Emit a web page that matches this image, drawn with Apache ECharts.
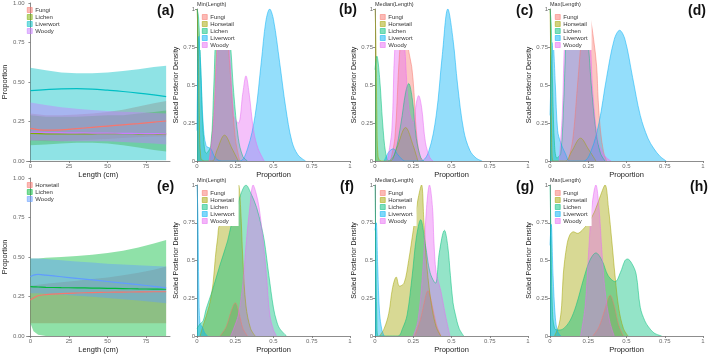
<!DOCTYPE html>
<html><head><meta charset="utf-8">
<script src="https://cdn.jsdelivr.net/npm/echarts@6/dist/echarts.min.js"></script>
<style>html,body{margin:0;padding:0;background:#fff}#c{width:709px;height:355px}</style>
</head><body><div id="c"></div>
<script>
// ---------- Panel (a): proportion vs length ----------
const lengthA = [0,10,20,30,40,50,60,70,80,88];
const aFungiMean = [0.207,0.195,0.197,0.205,0.213,0.221,0.229,0.237,0.246,0.253];
const aFungiLow  = [0.13,0.125,0.125,0.13,0.135,0.14,0.145,0.15,0.155,0.155];
const aFungiHigh = [0.30,0.29,0.29,0.295,0.30,0.31,0.325,0.345,0.365,0.38];
const aLichenMean = [0.175,0.172,0.171,0.171,0.172,0.173,0.173,0.172,0.171,0.17];
const aLichenLow  = [0.10,0.105,0.11,0.115,0.115,0.11,0.10,0.085,0.07,0.06];
const aLichenHigh = [0.29,0.28,0.28,0.28,0.285,0.29,0.29,0.30,0.31,0.32];
const aLiverwortMean = [0.445,0.452,0.457,0.458,0.455,0.448,0.44,0.43,0.418,0.407];
const aLiverwortLow  = [0.005,0.005,0.005,0.005,0.005,0.005,0.005,0.005,0.005,0.005];
const aLiverwortHigh = [0.59,0.575,0.56,0.555,0.555,0.56,0.57,0.58,0.595,0.603];
const aWoodyMean = [0.182,0.18,0.179,0.178,0.177,0.176,0.175,0.174,0.173,0.172];
const aWoodyLow  = [0.13,0.13,0.125,0.125,0.125,0.125,0.12,0.115,0.11,0.105];
const aWoodyHigh = [0.37,0.355,0.34,0.33,0.322,0.316,0.312,0.308,0.304,0.30];

// ---------- Panel (e) ----------
const lengthE = [0,2,5,10,20,30,40,50,60,70,80,88];
const eHorsetailMean = [0.228,0.24,0.255,0.262,0.268,0.272,0.275,0.277,0.278,0.279,0.28,0.28];
const eHorsetailLow  = [0.08,0.08,0.08,0.08,0.08,0.08,0.08,0.08,0.08,0.08,0.08,0.08];
const eHorsetailHigh = [0.32,0.32,0.325,0.33,0.34,0.35,0.36,0.37,0.385,0.40,0.42,0.44];
const eLichenMean = [0.312,0.311,0.31,0.308,0.306,0.305,0.303,0.302,0.30,0.298,0.297,0.296];
const eLichenLow  = [0.08,0.03,0.008,0,0,0,0,0,0,0,0,0];
const eLichenHigh = [0.49,0.49,0.49,0.495,0.50,0.507,0.515,0.525,0.54,0.56,0.585,0.608];
const eWoodyMean = [0.375,0.385,0.39,0.385,0.375,0.365,0.355,0.345,0.335,0.325,0.314,0.305];
const eWoodyLow  = [0.27,0.27,0.27,0.268,0.262,0.255,0.248,0.24,0.232,0.224,0.215,0.207];
const eWoodyHigh = [0.49,0.49,0.49,0.488,0.48,0.472,0.465,0.458,0.452,0.447,0.443,0.44];

// ---------- Density panels: [proportion, scaled density] ----------
const bFungi = [[0.08,0],[0.11,0.3],[0.13,0.75],[0.16,1],[0.19,0.9],[0.22,0.55],[0.25,0.15],[0.28,0]];
const bHorsetail = [[0,1],[0.008,0.8],[0.015,0.3],[0.025,0.02],[0.05,0],[0.1,0],[0.13,0.07],[0.18,0.17],[0.23,0.08],[0.27,0]];
const bLichen = [[0,1],[0.01,0.95],[0.025,0.6],[0.04,0.2],[0.06,0.05],[0.09,0.1],[0.11,0.5],[0.13,0.9],[0.17,1],[0.21,0.85],[0.24,0.45],[0.27,0.15],[0.3,0.03],[0.33,0]];
const bLiverwort = [[0,0.2],[0.012,0.82],[0.025,0.6],[0.04,0.25],[0.06,0.1],[0.09,0.08],[0.12,0.02],[0.16,0],[0.28,0],[0.33,0.08],[0.38,0.3],[0.42,0.65],[0.45,0.92],[0.475,1],[0.5,0.93],[0.54,0.65],[0.58,0.35],[0.62,0.13],[0.66,0.04],[0.71,0]];
const bWoody = [[0.08,0],[0.11,0.25],[0.14,0.8],[0.18,1],[0.21,0.75],[0.24,0.3],[0.27,0.25],[0.3,0.45],[0.32,0.56],[0.34,0.45],[0.37,0.2],[0.4,0.08],[0.44,0]];

const cFungi = [[0.1,0],[0.13,0.15],[0.16,0.7],[0.19,0.97],[0.215,0.75],[0.24,0.62],[0.255,0.45],[0.27,0.2],[0.29,0.04],[0.31,0]];
const cHorsetail = [[0,1],[0.006,0.8],[0.012,0.3],[0.02,0.03],[0.04,0],[0.1,0],[0.14,0.08],[0.2,0.22],[0.25,0.1],[0.28,0]];
const cLichen = [[0,0.6],[0.012,0.69],[0.03,0.55],[0.05,0.25],[0.07,0.05],[0.09,0],[0.13,0.05],[0.17,0.25],[0.2,0.45],[0.22,0.51],[0.245,0.4],[0.27,0.15],[0.3,0.02],[0.32,0]];
const cLiverwort = [[0.06,0],[0.09,0.06],[0.12,0.08],[0.15,0.04],[0.2,0],[0.3,0],[0.35,0.06],[0.4,0.3],[0.44,0.7],[0.476,1],[0.51,0.8],[0.54,0.5],[0.58,0.2],[0.62,0.07],[0.66,0.02],[0.7,0]];
const cWoody = [[0.08,0],[0.11,0.2],[0.13,0.75],[0.16,0.97],[0.19,0.8],[0.22,0.35],[0.25,0.25],[0.27,0.38],[0.285,0.43],[0.305,0.35],[0.33,0.12],[0.36,0.02],[0.38,0]];

const dFungi = [[0.12,0],[0.15,0.15],[0.18,0.5],[0.21,0.85],[0.235,1],[0.26,0.95],[0.285,0.8],[0.305,0.62],[0.315,0.4],[0.33,0.2],[0.35,0.06],[0.37,0]];
const dHorsetail = [[0,1],[0.005,0.7],[0.01,0.2],[0.02,0],[0.1,0],[0.14,0.06],[0.2,0.15],[0.25,0.08],[0.3,0]];
const dLichen = [[0,1],[0.008,0.9],[0.018,0.45],[0.03,0.1],[0.045,0.02],[0.07,0.05],[0.09,0.4],[0.11,0.85],[0.14,0.95],[0.2,0.95],[0.24,0.85],[0.27,0.5],[0.3,0.2],[0.33,0.05],[0.36,0]];
const dLiverwort = [[0,0.3],[0.02,0.78],[0.035,0.5],[0.05,0.2],[0.07,0.12],[0.1,0.05],[0.13,0],[0.22,0],[0.27,0.07],[0.32,0.25],[0.37,0.55],[0.42,0.8],[0.455,0.86],[0.49,0.8],[0.54,0.55],[0.59,0.3],[0.64,0.15],[0.68,0.08],[0.72,0.03],[0.76,0]];
const dWoody = [[0.06,0],[0.08,0.3],[0.1,0.85],[0.13,0.97],[0.2,0.97],[0.25,0.9],[0.28,0.45],[0.31,0.15],[0.34,0.06],[0.37,0.02],[0.4,0]];

const fFungi = [[0.15,0],[0.19,0.06],[0.225,0.17],[0.25,0.22],[0.275,0.15],[0.3,0.05],[0.33,0]];
const fHorsetail = [[0.02,0],[0.04,0.07],[0.08,0.2],[0.105,0.35],[0.12,0.52],[0.135,0.65],[0.15,0.74],[0.2,0.76],[0.235,0.8],[0.255,0.92],[0.272,1],[0.285,0.85],[0.3,0.5],[0.32,0.2],[0.35,0.05],[0.38,0]];
const fLichen = [[0,0.05],[0.02,0.08],[0.04,0.1],[0.06,0.18],[0.1,0.3],[0.15,0.47],[0.2,0.63],[0.225,0.74],[0.26,0.85],[0.29,0.95],[0.32,1],[0.35,0.95],[0.39,0.85],[0.42,0.73],[0.44,0.63],[0.47,0.4],[0.5,0.185],[0.52,0.1],[0.54,0.05],[0.585,0]];
const fLiverwort = [[0,1],[0.006,0.8],[0.012,0.3],[0.02,0.08],[0.035,0.06],[0.05,0.02],[0.07,0]];
const fWoody = [[0.22,0],[0.24,0.05],[0.27,0.14],[0.3,0.35],[0.32,0.6],[0.345,0.85],[0.367,1],[0.385,0.95],[0.406,0.85],[0.43,0.65],[0.454,0.4],[0.476,0.14],[0.5,0.04],[0.52,0]];

const gFungi = [[0.26,0],[0.3,0.12],[0.33,0.26],[0.346,0.3],[0.37,0.22],[0.4,0.08],[0.43,0]];
const gHorsetail = [[0.03,0],[0.06,0.05],[0.09,0.15],[0.115,0.32],[0.139,0.39],[0.16,0.33],[0.19,0.35],[0.22,0.5],[0.25,0.7],[0.28,0.9],[0.304,1],[0.32,0.75],[0.34,0.45],[0.37,0.2],[0.4,0.06],[0.43,0]];
const gLichen = [[0,1],[0.005,0.6],[0.012,0.1],[0.02,0],[0.15,0],[0.18,0.05],[0.21,0.14],[0.243,0.4],[0.27,0.65],[0.298,0.77],[0.33,0.6],[0.36,0.42],[0.395,0.35],[0.42,0.55],[0.454,0.7],[0.475,0.6],[0.493,0.4],[0.51,0.22],[0.526,0.14],[0.55,0.05],[0.58,0]];
const gLiverwort = [[0,0.7],[0.008,0.75],[0.018,0.45],[0.03,0.15],[0.045,0.04],[0.06,0]];
const gWoody = [[0.25,0],[0.28,0.1],[0.31,0.4],[0.337,0.85],[0.356,1],[0.376,0.85],[0.385,0.63],[0.4,0.42],[0.43,0.3],[0.46,0.14],[0.49,0]];

const hFungi = [[0.28,0],[0.32,0.06],[0.36,0.18],[0.393,0.27],[0.42,0.2],[0.45,0.07],[0.48,0]];
const hHorsetail = [[0.03,0],[0.06,0.08],[0.076,0.2],[0.087,0.41],[0.11,0.6],[0.13,0.67],[0.153,0.69],[0.18,0.68],[0.21,0.7],[0.25,0.75],[0.29,0.82],[0.33,0.93],[0.36,1],[0.382,0.85],[0.404,0.63],[0.426,0.39],[0.45,0.18],[0.48,0.05],[0.51,0]];
const hLichen = [[0,1],[0.006,0.7],[0.015,0.2],[0.03,0.05],[0.06,0.04],[0.09,0.05],[0.13,0.1],[0.17,0.2],[0.22,0.38],[0.26,0.5],[0.3,0.55],[0.34,0.5],[0.38,0.4],[0.426,0.36],[0.46,0.42],[0.49,0.5],[0.507,0.51],[0.535,0.48],[0.563,0.41],[0.59,0.19],[0.62,0.1],[0.644,0.06],[0.68,0.02],[0.73,0]];
const hLiverwort = [[0,0.6],[0.008,0.74],[0.02,0.4],[0.035,0.12],[0.05,0.03],[0.07,0]];
const hWoody = [[0.2,0],[0.23,0.2],[0.255,0.6],[0.273,0.85],[0.3,1],[0.32,0.85],[0.34,0.55],[0.36,0.3],[0.39,0.1],[0.42,0]];

const groups5 = ['Fungi','Horsetail','Lichen','Liverwort','Woody'];
const lengthTicks = [0,25,50,75];
const panelLabels = ['(a)','(b)','(c)','(d)','(e)','(f)','(g)','(h)'];
const densityTitles = ['Min(Length)','Median(Length)','Max(Length)'];

// ---------- styling ----------
const FONT = 'Liberation Sans, Arial, sans-serif';
const col5 = {Fungi:'#F8766D', Horsetail:'#A3A500', Lichen:'#00BF7D', Liverwort:'#00B0F6', Woody:'#E76BF3'};
const colA = {Fungi:'#F8766D', Lichen:'#7CAE00', Liverwort:'#00BFC4', Woody:'#C77CFF'};
const colE = {Horsetail:'#F8766D', Lichen:'#00BA38', Woody:'#619CFF'};
function rgba(hex,a){const n=parseInt(hex.slice(1),16);return `rgba(${n>>16},${(n>>8)&255},${n&255},${a})`;}

const grids = [
  {left:25, top:3, width:145, height:158},
  {left:197, top:9, width:153, height:152},
  {left:375, top:9, width:153, height:152},
  {left:550, top:9, width:153, height:152},
  {left:25, top:178, width:145, height:158},
  {left:197, top:185, width:153, height:151},
  {left:375, top:185, width:153, height:151},
  {left:550, top:185, width:153, height:151}
];

const axLine = {show:true, lineStyle:{color:'#707070', width:0.8}};
const axTick = {show:true, length:2, lineStyle:{color:'#707070', width:0.8}};
const labStyle = {fontSize:6, color:'#6a6a6a', margin:2, fontFamily:FONT};
const nameStyle = {fontSize:7.5, color:'#222', fontFamily:FONT};

const xAxes = [], yAxes = [];
grids.forEach((g,i)=>{
  const isLen = (i===0||i===4);
  if (isLen) {
    xAxes.push({gridIndex:i, type:'value', min:-2.5, max:90.5, name:'Length (cm)', nameLocation:'middle', nameGap:10, nameTextStyle:nameStyle,
      axisLine:axLine, axisTick:Object.assign({customValues:lengthTicks},axTick), axisLabel:Object.assign({customValues:lengthTicks},labStyle), splitLine:{show:false}});
    yAxes.push({gridIndex:i, type:'value', min:0, max:1, interval:0.25, name:'Proportion', nameLocation:'middle', nameGap:17, nameTextStyle:nameStyle,
      axisLine:axLine, axisTick:axTick, axisLabel:Object.assign({formatter:v=>v.toFixed(2)},labStyle), splitLine:{show:false}});
  } else {
    const gap = (i===3||i===7)?15:17;
    xAxes.push({gridIndex:i, type:'value', min:0, max:1, interval:0.25, name:'Proportion', nameLocation:'middle', nameGap:10, nameTextStyle:nameStyle,
      axisLine:axLine, axisTick:axTick, axisLabel:labStyle, splitLine:{show:false}});
    yAxes.push({gridIndex:i, type:'value', min:0, max:1, interval:0.25, name:'Scaled Posterior Density', nameLocation:'middle', nameGap:gap, nameTextStyle:{fontSize:7, color:'#222', fontFamily:FONT},
      axisLine:axLine, axisTick:axTick, axisLabel:labStyle, splitLine:{show:false}});
  }
});

const series = [];
function meanLine(gi,name,xs,ys,color){
  series.push({type:'line', name, xAxisIndex:gi, yAxisIndex:gi, symbol:'none', smooth:0.4, silent:true,
    lineStyle:{color, width:1.2}, data: xs.map((x,k)=>[x,ys[k]])});
}
function ribbon(gi,name,xs,lo,hi,color){
  series.push({type:'custom', name, xAxisIndex:gi, yAxisIndex:gi, silent:true, clip:true,
    data:[[xs[0], lo[0]]],
    renderItem:(params, api)=>{
      const up = xs.map((x,k)=>api.coord([x,hi[k]]));
      const dn = xs.map((x,k)=>api.coord([x,lo[k]])).reverse();
      return {type:'group', children:[
        {type:'polygon', shape:{points:up.concat(dn)}, style:{fill:rgba(color,0.44), stroke:null}}
      ]};
    }});
}
// panel (a)
const aSets = {Fungi:[aFungiMean,aFungiLow,aFungiHigh], Lichen:[aLichenMean,aLichenLow,aLichenHigh], Liverwort:[aLiverwortMean,aLiverwortLow,aLiverwortHigh], Woody:[aWoodyMean,aWoodyLow,aWoodyHigh]};
Object.keys(aSets).forEach(n=>meanLine(0,n,lengthA,aSets[n][0],colA[n]));
Object.keys(aSets).forEach(n=>ribbon(0,n,lengthA,aSets[n][1],aSets[n][2],colA[n]));
// panel (e)
const eSets = {Horsetail:[eHorsetailMean,eHorsetailLow,eHorsetailHigh], Lichen:[eLichenMean,eLichenLow,eLichenHigh], Woody:[eWoodyMean,eWoodyLow,eWoodyHigh]};
Object.keys(eSets).forEach(n=>meanLine(4,n,lengthE,eSets[n][0],colE[n]));
Object.keys(eSets).forEach(n=>ribbon(4,n,lengthE,eSets[n][1],eSets[n][2],colE[n]));
// density panels
const dens = {
  1:[bFungi,bHorsetail,bLichen,bLiverwort,bWoody],
  2:[cFungi,cHorsetail,cLichen,cLiverwort,cWoody],
  3:[dFungi,dHorsetail,dLichen,dLiverwort,dWoody],
  5:[fFungi,fHorsetail,fLichen,fLiverwort,fWoody],
  6:[gFungi,gHorsetail,gLichen,gLiverwort,gWoody],
  7:[hFungi,hHorsetail,hLichen,hLiverwort,hWoody]
};
Object.keys(dens).forEach(k=>{
  const gi = +k;
  dens[k].forEach((arr,j)=>{
    const n = groups5[j], c = col5[n];
    series.push({type:'line', name:n, xAxisIndex:gi, yAxisIndex:gi, symbol:'none', smooth:0.35, silent:true,
      lineStyle:{color:c, width:0.6, opacity:0.85}, areaStyle:{color:c, opacity:0.42}, data:arr});
  });
});

// legends
const legends = [];
function legend(left, top, names, cmap, alpha, bg){
  legends.push({left, top, orient:'vertical', icon:'rect', itemWidth:5, itemHeight:5, itemGap:1, selectedMode:false,
    padding: bg?[5,4,2,2]:0, backgroundColor: bg?'#fff':'transparent', z:50,
    textStyle:{fontSize:6, color:'#333', fontFamily:FONT, lineHeight:6, padding:[0,0,0,-2]},
    data: names.map(n=>({name:n, itemStyle:{color:rgba(cmap[n],alpha), borderColor:cmap[n], borderWidth:0.5}, lineStyle:{width:0}}))});
}
legend(27, 7, Object.keys(colA), colA, 0.5, false);
legend(27, 182, Object.keys(colE), colE, 0.5, false);
[1,2,3,5,6,7].forEach(gi=>legend(grids[gi].left+3, grids[gi].top, groups5, col5, 0.5, true));

// graphic texts
const graphics = [];
const labelPos = [[157,4],[339,3],[516,4],[688,4],[157,180],[340,180],[516,180],[690,180]];
panelLabels.forEach((t,i)=>graphics.push({type:'text', left:labelPos[i][0], top:labelPos[i][1], z:100,
  style:{text:t, fontSize:14, fontWeight:'bold', fill:'#111', fontFamily:FONT}}));
[[197,1],[375,1],[550,1],[197,177],[375,177],[550,177]].forEach((p,i)=>graphics.push({type:'text', left:p[0], top:p[1], z:100,
  style:{text:densityTitles[i%3], fontSize:5.5, fill:'#333', fontFamily:FONT}}));

const chart = echarts.init(document.getElementById('c'), null, {renderer:'canvas'});
chart.setOption({
  animation:false,
  textStyle:{fontFamily:FONT},
  grid: grids.map(g=>Object.assign({containLabel:false}, g)),
  xAxis:xAxes, yAxis:yAxes, series, legend:legends, graphic:graphics
});
</script></body></html>
